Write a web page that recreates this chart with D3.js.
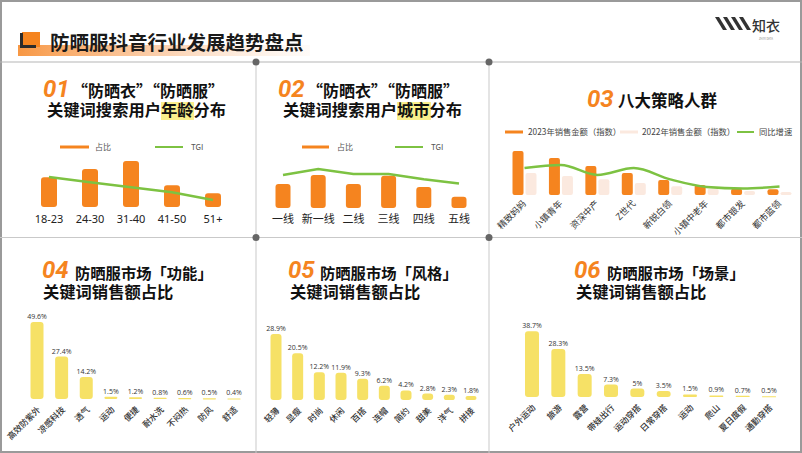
<!DOCTYPE html>
<html><head><meta charset="utf-8">
<script src="https://cdn.jsdelivr.net/npm/d3@7"></script>
<style>
html,body{margin:0;padding:0;background:#fff;}
svg{display:block;font-family:"Noto Sans CJK SC","Noto Sans",sans-serif;}
</style></head>
<body><svg id="c" width="802" height="453"></svg>
<script>
// ---------- DATA ----------
const ageCats = ["18-23","24-30","31-40","41-50","51+"];
const ageShare = [20.5, 26, 31.5, 15, 9.5];
const ageTGI = [110, 104, 98, 92, 83];

const cityCats = ["一线","新一线","二线","三线","四线","五线"];
const cityShare = [16, 22, 16, 21.5, 14, 7.5];
const cityTGI = [108, 115, 109, 109, 103, 98];

const groupCats = ["精致妈妈","小镇青年","资深中产","Z世代","新锐白领","小镇中老年","都市银发","都市蓝领"];
const sales2023 = [100, 84, 66, 50, 34, 23, 14, 13];
const sales2022 = [50, 43, 36, 27, 20, 14, 9, 7];
const growth = [98, 108, 75, 98, 60, 35, 30, 36];
const groupLegend = ["2023年销售金额（指数）","2022年销售金额（指数）","同比增速"];

const funcCats = ["高效防紫外","凉感科技","透气","运动","便捷","耐水洗","不闷热","防风","舒适"];
const funcVals = [49.6, 27.4, 14.2, 1.5, 1.2, 0.8, 0.6, 0.5, 0.4];

const styleCats = ["轻薄","显瘦","时尚","休闲","百搭","连帽","简约","甜美","洋气","拼接"];
const styleVals = [28.9, 20.5, 12.2, 11.9, 9.3, 6.2, 4.2, 2.8, 2.3, 1.8];

const sceneCats = ["户外运动","旅游","露营","带娃出行","运动穿搭","日常穿搭","运动","爬山","夏日度假","通勤穿搭"];
const sceneVals = [38.7, 28.3, 13.5, 7.3, 5, 3.5, 1.5, 0.9, 0.7, 0.5];

// ---------- STYLE ----------
const ORANGE = "#F5841F", GREEN = "#7DC242", YELLOW = "#F6E166", PINK = "#FBE9DF", HILITE = "#FAEF8C";
const svg = d3.select("#c");
const defs = svg.append("defs");

// ---------- FRAME & DIVIDERS ----------
svg.append("rect").attr("x",1).attr("y",1).attr("width",800).attr("height",451)
  .attr("fill","none").attr("stroke","#9a9a9a").attr("stroke-width",2);
const lineC = "#c9c9c9";
svg.append("line").attr("x1",0).attr("x2",802).attr("y1",62).attr("y2",62).attr("stroke","#b5b5b5").attr("stroke-width",1.2);
svg.append("line").attr("x1",0).attr("x2",802).attr("y1",237.5).attr("y2",237.5).attr("stroke",lineC);
svg.append("line").attr("x1",256).attr("x2",256).attr("y1",62).attr("y2",453).attr("stroke",lineC);
svg.append("line").attr("x1",489).attr("x2",489).attr("y1",62).attr("y2",453).attr("stroke",lineC);
[[256,62],[489,62],[256,237.5],[489,237.5]].forEach(p=>{
  svg.append("circle").attr("cx",p[0]).attr("cy",p[1]).attr("r",3.5).attr("fill","#666");
});

// ---------- HEADER ----------
const hg = defs.append("linearGradient").attr("id","hg").attr("x1","0").attr("x2","1");
hg.append("stop").attr("offset","0").attr("stop-color","#F7923A").attr("stop-opacity",0.95);
hg.append("stop").attr("offset","0.5").attr("stop-color","#F9B27A").attr("stop-opacity",0.6);
hg.append("stop").attr("offset","1").attr("stop-color","#FCE3CF").attr("stop-opacity",0.15);
svg.append("rect").attr("x",18).attr("y",45).attr("width",292).attr("height",11).attr("fill","url(#hg)");
svg.append("rect").attr("x",22).attr("y",32).attr("width",18).attr("height",15).attr("fill",ORANGE);
svg.append("path").attr("d","M20,33 L23,33 L23,45 L36,45 L36,48 L20,48 Z").attr("fill","#2b2b2b");
svg.append("text").attr("x",50).attr("y",50).attr("font-size",19.5).attr("font-weight",700)
  .attr("fill","#1a1a1a").text("防晒服抖音行业发展趋势盘点");

// logo
for(let i=0;i<4;i++){
  const x0 = 715 + i*8;
  svg.append("polygon").attr("points",`${x0},17 ${x0+4},17 ${x0+12},30 ${x0+8},30`).attr("fill","#333");
}
svg.append("text").attr("x",752).attr("y",31).attr("font-size",14).attr("font-weight",500).attr("fill","#333").text("知衣");
svg.append("text").attr("x",766).attr("y",39.5).attr("font-size",2.8).attr("fill","#888").attr("text-anchor","middle").text("ZHIYI DATA");

// ---------- helpers ----------
function numTitle(x, y, num){
  svg.append("text").attr("x",x).attr("y",y).attr("font-family","Roboto,'Noto Sans',sans-serif")
    .attr("font-size",24).attr("font-weight",700).attr("font-style","italic").attr("fill",ORANGE).text(num);
}
function txt(x, y, s, size, opts={}){
  return svg.append("text").attr("x",x).attr("y",y).attr("font-size",size)
    .attr("font-weight",opts.weight||700).attr("fill",opts.fill||"#111")
    .attr("text-anchor",opts.anchor||"start").text(s);
}

// ---------- PANEL 01 ----------
numTitle(43, 97, "01");
txt(72, 97, "“防晒衣”“防晒服”", 16);
svg.append("rect").attr("x",161).attr("y",102).attr("width",33).attr("height",18).attr("fill",HILITE);
txt(47, 116, "关键词搜索用户年龄分布", 16.3);
// legend
svg.append("line").attr("x1",60).attr("x2",89).attr("y1",147).attr("y2",147).attr("stroke",ORANGE).attr("stroke-width",3);
txt(95, 150, "占比", 8, {weight:400, fill:"#555"});
svg.append("line").attr("x1",155).attr("x2",183).attr("y1",147).attr("y2",147).attr("stroke",GREEN).attr("stroke-width",2);
txt(191, 150, "TGI", 8, {weight:400, fill:"#555"});
{
  const x = d3.scalePoint().domain(ageCats).range([49,213]);
  const y = d3.scaleLinear().domain([0,35]).range([207,156]);
  const y2 = d3.scaleLinear().domain([60,130]).range([219.6,160]);
  const bw = 16;
  svg.append("g").selectAll("rect").data(ageCats).join("rect")
    .attr("x",d=>x(d)-bw/2).attr("y",(d,i)=>y(ageShare[i])).attr("width",bw)
    .attr("height",(d,i)=>y(0)-y(ageShare[i])).attr("rx",3).attr("fill",ORANGE);
  svg.append("path").datum(ageTGI).attr("fill","none").attr("stroke",GREEN).attr("stroke-width",2.5)
    .attr("d", d3.line().x((d,i)=>x(ageCats[i])).y(d=>y2(d)));
  svg.append("g").selectAll("text").data(ageCats).join("text")
    .attr("x",d=>x(d)).attr("y",223).attr("text-anchor","middle").attr("font-size",11)
    .attr("font-family","'Noto Sans',sans-serif").attr("fill","#222").text(d=>d);
}

// ---------- PANEL 02 ----------
numTitle(278, 97, "02");
txt(307, 97, "“防晒衣”“防晒服”", 16);
svg.append("rect").attr("x",397).attr("y",102).attr("width",34).attr("height",18).attr("fill",HILITE);
txt(283, 116, "关键词搜索用户城市分布", 16.3);
svg.append("line").attr("x1",302).attr("x2",329).attr("y1",147).attr("y2",147).attr("stroke",ORANGE).attr("stroke-width",3);
txt(337, 150, "占比", 8, {weight:400, fill:"#555"});
svg.append("line").attr("x1",395).attr("x2",423).attr("y1",147).attr("y2",147).attr("stroke",GREEN).attr("stroke-width",2);
txt(431, 150, "TGI", 8, {weight:400, fill:"#555"});
{
  const x = d3.scalePoint().domain(cityCats).range([283,459]);
  const y = d3.scaleLinear().domain([0,22]).range([208,175]);
  const y2 = d3.scaleLinear().domain([60,130]).range([215.75,156.25]);
  const bw = 15;
  svg.append("g").selectAll("rect").data(cityCats).join("rect")
    .attr("x",d=>x(d)-bw/2).attr("y",(d,i)=>y(cityShare[i])).attr("width",bw)
    .attr("height",(d,i)=>y(0)-y(cityShare[i])).attr("rx",3).attr("fill",ORANGE);
  svg.append("path").datum(cityTGI).attr("fill","none").attr("stroke",GREEN).attr("stroke-width",2.5)
    .attr("d", d3.line().x((d,i)=>x(cityCats[i])).y(d=>y2(d)));
  svg.append("g").selectAll("text").data(cityCats).join("text")
    .attr("x",d=>x(d)).attr("y",223).attr("text-anchor","middle").attr("font-size",11)
    .attr("fill","#222").text(d=>d);
}

// ---------- PANEL 03 ----------
numTitle(587, 107, "03");
txt(618, 107, "八大策略人群", 16.5);
svg.append("line").attr("x1",505).attr("x2",523).attr("y1",132).attr("y2",132).attr("stroke",ORANGE).attr("stroke-width",3);
txt(528, 135, groupLegend[0], 8.3, {weight:400, fill:"#444"});
svg.append("line").attr("x1",620).attr("x2",638).attr("y1",132).attr("y2",132).attr("stroke",PINK).attr("stroke-width",3);
txt(642, 135, groupLegend[1], 8.3, {weight:400, fill:"#444"});
svg.append("line").attr("x1",737).attr("x2",754).attr("y1",132).attr("y2",132).attr("stroke",GREEN).attr("stroke-width",2);
txt(759, 135, groupLegend[2], 8.3, {weight:400, fill:"#444"});
{
  const x = d3.scalePoint().domain(groupCats).range([524.5,779.5]);
  const y = d3.scaleLinear().domain([0,100]).range([195,151]);
  const y2 = d3.scaleLinear().domain([0,130]).range([197.4,158.4]);
  const bw = 11;
  svg.append("g").selectAll("rect").data(groupCats).join("rect")
    .attr("x",d=>x(d)+1).attr("y",(d,i)=>y(sales2022[i])).attr("width",bw)
    .attr("height",(d,i)=>y(0)-y(sales2022[i])).attr("rx",2).attr("fill",PINK);
  svg.append("g").selectAll("rect").data(groupCats).join("rect")
    .attr("x",d=>x(d)-bw-1).attr("y",(d,i)=>y(sales2023[i])).attr("width",bw)
    .attr("height",(d,i)=>y(0)-y(sales2023[i])).attr("rx",2).attr("fill",ORANGE);
  svg.append("path").datum(growth).attr("fill","none").attr("stroke",GREEN).attr("stroke-width",2.5)
    .attr("d", d3.line().x((d,i)=>x(groupCats[i])).y(d=>y2(d)).curve(d3.curveMonotoneX));
  svg.append("g").selectAll("text").data(groupCats).join("text")
    .attr("transform",d=>`translate(${x(d)},202) rotate(-45)`).attr("text-anchor","end")
    .attr("dy","0.35em").attr("font-size",9).attr("fill","#333").text(d=>d);
}

// ---------- PANELS 04-06 ----------
function yellowBars(cats, vals, x0, x1, bw, base, domMax, topPx){
  const x = d3.scalePoint().domain(cats).range([x0,x1]);
  const y = d3.scaleLinear().domain([0,domMax]).range([base, topPx]);
  const g = svg.append("g");
  g.selectAll("rect").data(cats).join("rect")
    .attr("x",d=>x(d)-bw/2).attr("y",(d,i)=>y(vals[i])).attr("width",bw)
    .attr("height",(d,i)=>Math.max(1.2, y(0)-y(vals[i]))).attr("rx",(d,i)=>Math.min(3,(y(0)-y(vals[i]))/2)).attr("fill",YELLOW);
  g.selectAll("text.v").data(cats).join("text").attr("class","v")
    .attr("x",d=>x(d)).attr("y",(d,i)=>y(vals[i])-3).attr("text-anchor","middle")
    .attr("font-family","'Open Sans','Noto Sans',sans-serif").attr("font-size",7).attr("fill","#333")
    .text((d,i)=>vals[i]+"%");
  g.selectAll("text.c").data(cats).join("text").attr("class","c")
    .attr("transform",d=>`translate(${x(d)+2},${base+9}) rotate(-45)`).attr("text-anchor","end")
    .attr("dy","0.35em").attr("font-size",8.5).attr("font-weight",500).attr("fill","#333").text(d=>d);
}
numTitle(42, 278, "04");
txt(75, 279, "防晒服市场「功能」", 15.3);
txt(43, 297.5, "关键词销售额占比", 16.3);
yellowBars(funcCats, funcVals, 37, 234, 13, 399, 50, 321.5);

numTitle(288, 278, "05");
txt(320, 279, "防晒服市场「风格」", 15.3);
txt(290, 297.5, "关键词销售额占比", 16.3);
yellowBars(styleCats, styleVals, 276, 471, 11, 400, 30, 331.6);

numTitle(574, 278, "06");
txt(607, 279, "防晒服市场「场景」", 15.3);
txt(576, 297.5, "关键词销售额占比", 16.3);
yellowBars(sceneCats, sceneVals, 532, 769, 14, 397, 40, 329);
</script></body></html>
